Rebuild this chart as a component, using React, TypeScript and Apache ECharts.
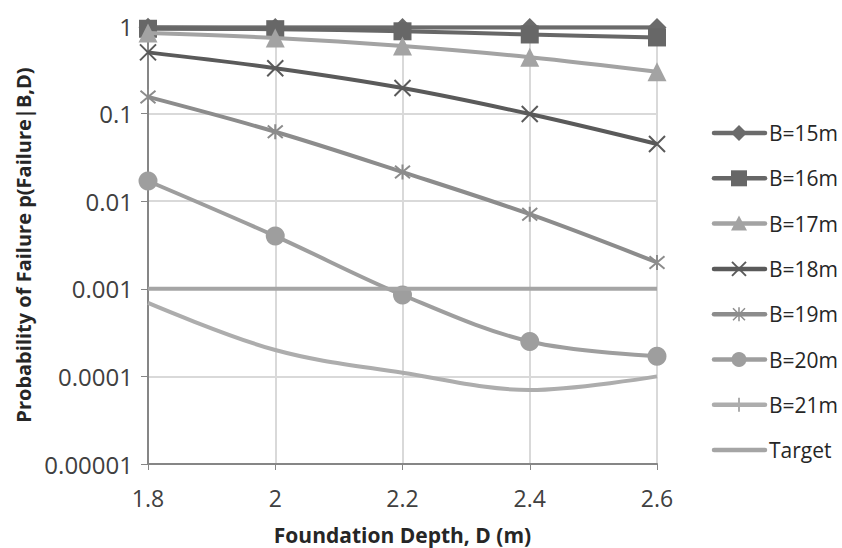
import React, { useEffect, useRef } from "react";
import * as echarts from "echarts";

const depths = ["1.8", "2", "2.2", "2.4", "2.6"];
const b15 = [0.97, 0.96, 0.96, 0.96, 0.96];
const b16 = [0.93, 0.92, 0.87, 0.8, 0.74];
const b17 = [0.83, 0.73, 0.59, 0.44, 0.3];
const b18 = [0.5, 0.33, 0.196, 0.099, 0.045];
const b19 = [0.155, 0.062, 0.0215, 0.0071, 0.002];
const b20 = [0.017, 0.004, 0.00085, 0.00025, 0.00017];
const b21 = [0.00069, 0.0002, 0.00011, 0.00007, 0.0001];
const target = [0.001, 0.001, 0.001, 0.001, 0.001];

const seriesNames = ["B=15m", "B=16m", "B=17m", "B=18m", "B=19m", "B=20m", "B=21m", "Target"];
const seriesData = [b15, b16, b17, b18, b19, b20, b21, target];
const seriesColors = ["#6b6b6b", "#676767", "#a3a3a3", "#5a5a5a", "#8c8c8c", "#9e9e9e", "#adadad", "#a5a5a5"];
const markerKinds = ["diamond", "square", "triangle", "x", "star", "circle", "plus", "none"];

const FONT = "Open Sans";

const X_PATH = "path://M0,0L10,10M10,0L0,10";
const STAR_PATH = "path://M0,0L10,10M10,0L0,10M5,-1L5,11";
const PLUS_PATH = "path://M5,0L5,10";

function legendMarker(kind: string, cx: number, cy: number, c: string): any[] {
  switch (kind) {
    case "diamond":
      return [{ type: "polygon", shape: { points: [[cx, cy - 8], [cx + 8, cy], [cx, cy + 8], [cx - 8, cy]] }, style: { fill: c } }];
    case "square":
      return [{ type: "rect", shape: { x: cx - 8, y: cy - 8, width: 16, height: 16 }, style: { fill: c } }];
    case "triangle":
      return [{ type: "polygon", shape: { points: [[cx, cy - 8], [cx + 8, cy + 7], [cx - 8, cy + 7]] }, style: { fill: c } }];
    case "x":
      return [
        { type: "line", shape: { x1: cx - 7, y1: cy - 7, x2: cx + 7, y2: cy + 7 }, style: { stroke: c, lineWidth: 2 } },
        { type: "line", shape: { x1: cx + 7, y1: cy - 7, x2: cx - 7, y2: cy + 7 }, style: { stroke: c, lineWidth: 2 } },
      ];
    case "star":
      return [
        { type: "line", shape: { x1: cx - 6, y1: cy - 6, x2: cx + 6, y2: cy + 6 }, style: { stroke: c, lineWidth: 1.5 } },
        { type: "line", shape: { x1: cx + 6, y1: cy - 6, x2: cx - 6, y2: cy + 6 }, style: { stroke: c, lineWidth: 1.5 } },
        { type: "line", shape: { x1: cx, y1: cy - 7, x2: cx, y2: cy + 7 }, style: { stroke: c, lineWidth: 1.5 } },
      ];
    case "circle":
      return [{ type: "circle", shape: { cx, cy, r: 7.5 }, style: { fill: c } }];
    case "plus":
      return [{ type: "line", shape: { x1: cx, y1: cy - 7, x2: cx, y2: cy + 7 }, style: { stroke: c, lineWidth: 2 } }];
    default:
      return [];
  }
}

export default function App() {
  const ref = useRef<HTMLDivElement>(null);
  useEffect(() => {
    if (!ref.current) return;
    const chart = echarts.init(ref.current, null, { renderer: "svg" });
    const symbolCfg: any[] = [
      { symbol: "diamond", symbolSize: 19, stroke: false },
      { symbol: "rect", symbolSize: 18, stroke: false },
      { symbol: "triangle", symbolSize: 19, stroke: false },
      { symbol: X_PATH, symbolSize: 16, stroke: true },
      { symbol: STAR_PATH, symbolSize: 15, stroke: true },
      { symbol: "circle", symbolSize: 19, stroke: false },
      { symbol: PLUS_PATH, symbolSize: 15, stroke: true },
      { symbol: "none", symbolSize: 0, stroke: false },
    ];
    const series = seriesNames.map((name, i) => {
      const c = seriesColors[i];
      const s = symbolCfg[i];
      return {
        name,
        type: "line",
        data: seriesData[i],
        smooth: i === 7 ? false : 0.35,
        symbol: s.symbol,
        symbolSize: s.symbolSize,
        showSymbol: s.symbol !== "none",
        lineStyle: { color: c, width: 4 },
        itemStyle: s.stroke
          ? { color: "rgba(0,0,0,0)", borderColor: c, borderWidth: 2 }
          : { color: c, borderColor: c, borderWidth: 0 },
        z: 2 + i,
      };
    });
    const legendEls: any[] = [];
    seriesNames.forEach((name, i) => {
      const cy = 133 + 45.3 * i;
      const c = seriesColors[i];
      legendEls.push({
        type: "line",
        shape: { x1: 714, y1: cy, x2: 765, y2: cy },
        style: { stroke: c, lineWidth: 4.5, lineCap: "round" },
      });
      legendMarker(markerKinds[i], 739, cy, c).forEach((m) => legendEls.push(m));
      legendEls.push({
        type: "text",
        x: 769,
        y: cy,
        style: { text: name, fontFamily: FONT, fontSize: 21, fill: "#262626", verticalAlign: "middle", align: "left" },
      });
    });
    chart.setOption({
      animation: false,
      backgroundColor: "#ffffff",
      textStyle: { fontFamily: FONT },
      grid: { left: 148, right: 185, top: 26, bottom: 84, containLabel: false, outerBoundsMode: "none" },
      graphic: legendEls,
      xAxis: {
        type: "category",
        data: depths,
        boundaryGap: false,
        name: "Foundation Depth, D (m)",
        nameLocation: "middle",
        nameGap: 60,
        nameTextStyle: { fontFamily: FONT, fontSize: 21, fontWeight: "bold", color: "#262626" },
        axisLine: { lineStyle: { color: "#868686", width: 2 } },
        axisTick: { show: true, alignWithLabel: true, length: 6, lineStyle: { color: "#868686" } },
        axisLabel: { fontFamily: FONT, fontSize: 23, color: "#404040", margin: 22 },
        splitLine: { show: true, lineStyle: { color: "#d9d9d9", width: 2 } },
      },
      yAxis: {
        type: "log",
        logBase: 10,
        min: 0.00001,
        max: 1,
        name: "Probability of Failure p(Failure|B,D)",
        nameLocation: "middle",
        nameGap: 114,
        nameTextStyle: { fontFamily: FONT, fontSize: 20, fontWeight: "bold", color: "#262626" },
        axisLine: { show: true, lineStyle: { color: "#868686", width: 2 } },
        axisTick: { show: true, length: 7, lineStyle: { color: "#868686" } },
        axisLabel: {
          fontFamily: FONT,
          fontSize: 24,
          color: "#404040",
          margin: 15,
          formatter: (v: number) => {
            const e = Math.round(Math.log10(v));
            return e >= 0 ? "1" : "0." + "0".repeat(-e - 1) + "1";
          },
        },
        splitLine: { show: true, lineStyle: { color: "#d9d9d9", width: 2 } },
      },
      series,
    });
    return () => chart.dispose();
  }, []);
  return <div ref={ref} style={{ width: 842, height: 548, position: "absolute", left: 0, top: 0 }} />;
}
